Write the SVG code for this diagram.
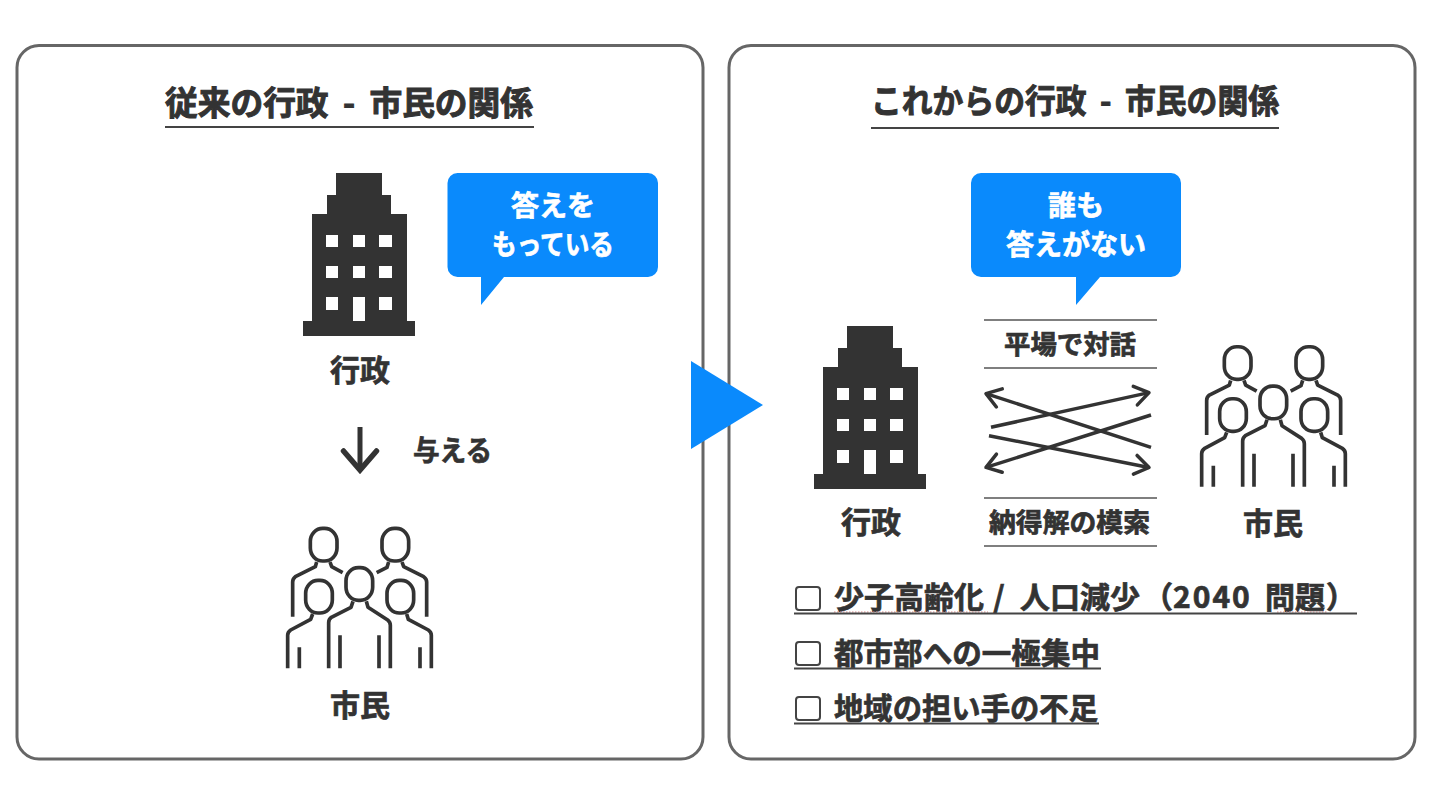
<svg xmlns="http://www.w3.org/2000/svg" width="1440" height="810" viewBox="0 0 1440 810">
<style>
text{font-family:"Noto Sans CJK JP","Noto Sans",sans-serif;font-weight:700;fill:#333;stroke:#333;stroke-width:.7;text-anchor:middle}
.panel{fill:#fff;stroke:#666;stroke-width:3}
.rule{stroke:#555;stroke-width:1.5;fill:none}
.ul{stroke:#444;stroke-width:2;fill:none}
.blue{fill:#0a8afc}
.w{fill:#fff}
.lbl{font-size:30px}
.give{font-size:28px}
text.call{font-size:28px;fill:#fff;stroke:#fff}
.mid{font-size:26px}
.list{font-size:30px;text-anchor:start}
.title{font-size:33px;word-spacing:7px;stroke-width:1}
.box{fill:none;stroke:#444;stroke-width:2}
.cross{fill:none;stroke:#333;stroke-width:3.5;stroke-linecap:butt}
.sq{stroke:#d98a8a;stroke-width:1.2;stroke-dasharray:1.5 1.5;fill:none}
.ppl{fill:none;stroke:#333;stroke-width:11;stroke-linecap:butt;stroke-linejoin:round}
</style>
<defs>
<marker id="hd" markerUnits="userSpaceOnUse" markerWidth="40" markerHeight="40" refX="20" refY="20" orient="auto" overflow="visible"><path d="M6,10.5L20,20L6,29.500" fill="none" stroke="#333" stroke-width="3.500" stroke-linecap="round" stroke-linejoin="round"/></marker>
<marker id="hdb" markerUnits="userSpaceOnUse" markerWidth="60" markerHeight="60" refX="30" refY="30" orient="auto" overflow="visible"><path d="M11,13.500L30,30L11,46.500" fill="none" stroke="#333" stroke-width="5.500" stroke-linecap="round" stroke-linejoin="miter"/></marker>
<g id="bld">
<path fill="#333" d="M336,173H382V195H391V214H407V321H415V336H303V321H312V214H327V195H336Z"/>
<path class="w" d="M326,235h12v12h-12zM353,235h12v12h-12zM379,235h13v12h-13zM326,266h12v12h-12zM353,266h12v12h-12zM379,266h13v12h-13zM326,297h12v13h-12zM353,297h12v24h-12zM379,297h13v13h-13z"/>
</g>
<g id="ppl" class="ppl">
<rect x="121" y="355" width="80" height="98" rx="37" ry="39"/>
<path d="M140,456L136,470L76,500Q68,506 68,516V620M180,456L185,470L218,488"/>
<rect x="336" y="355" width="80" height="98" rx="37" ry="39"/>
<path d="M356,456L351,472L320,488M396,456L401,470L461,500Q470,506 470,516V620"/>
<rect x="228" y="473" width="80" height="98" rx="37" ry="39"/>
<path d="M249,574L243,592L184,622Q176,628 176,638V775M289,574L294,592L353,630Q361,636 361,646V775M210,676V775M327,676V775"/>
<rect x="107" y="511" width="80" height="98" rx="37" ry="39"/>
<path d="M128,612L122,628L62,660Q53,666 53,676V775M88,712V775"/>
<rect x="351" y="511" width="80" height="98" rx="37" ry="39"/>
<path d="M410,612L415,628L475,660Q484,666 484,676V775M450,712V775"/>
</g>
</defs>
<rect width="1440" height="810" fill="#fff"/>
<g id="panel-left"><rect class="panel" x="17" y="45.500" width="686" height="713.500" rx="22"/>
<text class="title" x="349" y="115" textLength="368" lengthAdjust="spacingAndGlyphs">従来の行政 - 市民の関係</text>
<line class="ul" x1="165" y1="127" x2="534" y2="127"/></g>
<g id="panel-right"><rect class="panel" x="729" y="45.500" width="686" height="713.500" rx="22"/>
<text class="title" x="1075" y="113" textLength="408" lengthAdjust="spacingAndGlyphs">これからの行政 - 市民の関係</text>
<line class="ul" x1="871" y1="128" x2="1279" y2="128"/></g>
<g id="next-triangle"><path class="blue" d="M691,361L763,405L691,449Z"/></g>
<g id="gov-left"><use href="#bld"/><text class="lbl" x="360" y="381">行政</text></g>
<g id="callout-left"><path class="blue" d="M457.500,173H648a10,10 0 0 1 10,10V267a10,10 0 0 1-10,10H504L481,305V277H457.500a10,10 0 0 1-10-10V183a10,10 0 0 1 10-10Z"/>
<text class="call" x="553" y="216">答えを</text><text class="call" x="553" y="255" textLength="122" lengthAdjust="spacingAndGlyphs">もっている</text></g>
<g id="give-label"><text class="give" x="452.500" y="461" textLength="79" lengthAdjust="spacingAndGlyphs">与える</text></g>
<g id="citizens-left"><use href="#ppl" transform="translate(270 410) scale(.33333)"/><text class="lbl" x="360" y="716">市民</text></g>
<g id="callout-right"><path class="blue" d="M981,173H1171a10,10 0 0 1 10,10V267a10,10 0 0 1-10,10H1100L1076,305V277H981a10,10 0 0 1-10-10V183a10,10 0 0 1 10-10Z"/>
<text class="call" x="1076" y="216">誰も</text><text class="call" x="1076" y="255">答えがない</text></g>
<g id="gov-right"><use href="#bld" transform="translate(511 153)"/><text class="lbl" x="871" y="533">行政</text></g>
<g id="citizens-right"><use href="#ppl" transform="translate(1184 228.400) scale(.33333)"/><text class="lbl" x="1273" y="534">市民</text></g>
<g id="dialogue"><line class="rule" x1="984" y1="320" x2="1157" y2="320"/><line class="rule" x1="984" y1="368" x2="1157" y2="368"/>
<text class="mid" x="1070" y="354" textLength="132" lengthAdjust="spacingAndGlyphs">平場で対話</text></g>
<g id="solution"><line class="rule" x1="984" y1="498" x2="1157" y2="498"/><line class="rule" x1="984" y1="546" x2="1157" y2="546"/>
<text class="mid" x="1069.500" y="532" textLength="161" lengthAdjust="spacingAndGlyphs">納得解の模索</text></g>
<g id="connectors">
<line x1="360" y1="427" x2="360" y2="470" stroke="#333" stroke-width="5" marker-end="url(#hdb)"/>
<line class="cross" x1="991" y1="427.300" x2="1149" y2="392.600" marker-end="url(#hd)"/>
<line class="cross" x1="1151" y1="447.300" x2="986" y2="393.600" marker-end="url(#hd)"/>
<line class="cross" x1="989" y1="435.700" x2="1149" y2="467.500" marker-end="url(#hd)"/>
<line class="cross" x1="1151" y1="415" x2="986" y2="467.400" marker-end="url(#hd)"/>
</g>
<g id="item-1"><rect class="box" x="796" y="587" width="24" height="23" rx="3"/>
<text class="list" x="834" y="608">少子高齢化<tspan x="993">/</tspan><tspan x="1020">人口減少</tspan><tspan x="1143">（</tspan><tspan x="1173" style="letter-spacing:2px">2040</tspan><tspan x="1265">問題</tspan><tspan x="1326">）</tspan></text>
<path class="sq" d="M834,612H988M1277,612H1327"/><line class="ul" x1="794" y1="613.500" x2="1357" y2="613.500"/></g>
<g id="item-2"><rect class="box" x="796" y="642" width="24" height="23" rx="3"/>
<text class="list" x="834" y="664" textLength="266" lengthAdjust="spacingAndGlyphs">都市部への一極集中</text>
<line class="ul" x1="794" y1="668.500" x2="1101" y2="668.500"/></g>
<g id="item-3"><rect class="box" x="796" y="697" width="24" height="23" rx="3"/>
<text class="list" x="834" y="719" textLength="264" lengthAdjust="spacingAndGlyphs">地域の担い手の不足</text>
<line class="ul" x1="794" y1="723.500" x2="1099" y2="723.500"/></g>
</svg>
